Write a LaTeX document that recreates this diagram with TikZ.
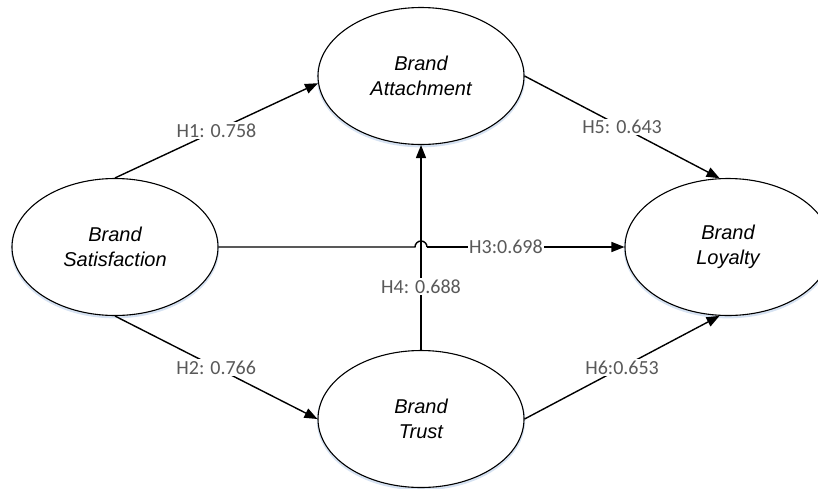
\documentclass[tikz,border=0pt]{standalone}
\usepackage{fontspec}
\setmainfont{Liberation Sans}
\newfontfamily\lblfont{Carlito}
\usetikzlibrary{arrows.meta,shapes.geometric,calc}
\definecolor{lblgray}{RGB}{89,89,89}
\definecolor{shadowblue}{RGB}{214,226,242}
\begin{document}
\begin{tikzpicture}[x=1pt,y=1pt,
  construct/.style={ellipse,draw=black,line width=1.1pt,fill=white,
    minimum width=206pt,minimum height=137pt,inner sep=0pt,align=center,
    font=\fontsize{20}{25}\selectfont\itshape,
    preaction={draw=shadowblue,line width=2.5pt,transform canvas={yshift=-1.6pt}}},
  plainline/.style={line width=1.4pt},
  link/.style={plainline,-{Triangle[length=13pt,width=10pt]}},
  lbl/.style={fill=white,text=lblgray,font=\lblfont\fontsize{20}{24}\selectfont,inner sep=1.5pt}]
\useasboundingbox (0,0) rectangle (818,-488);
\node[construct] (Sat) at (115,-247) {Brand\\Satisfaction};
\node[construct] (Att) at (421,-76) {Brand\\Attachment};
\node[construct] (Loy) at (728,-247) {Brand\\Loyalty};
\node[construct] (Tru) at (421,-419) {Brand\\Trust};
\coordinate (jx) at (Att.south |- Sat.east);
% H1
\draw[link] (Sat.north) -- (Att.184) node[lbl,midway] {H1: 0.758};
% H2
\draw[link] (Sat.south) -- (Tru.west) node[lbl,midway] {H2: 0.766};
% H5
\draw[link] (Att.east) -- (Loy.97) node[lbl,midway] {H5: 0.643};
% H6
\draw[link] (Tru.east) -- (Loy.263) node[lbl,midway] {H6:0.653};
% H4
\draw[link] (Tru.north) -- (Att.south) node[lbl,pos=0.31] {H4: 0.688};
% H3 with bridge
\draw[plainline] (Sat.east) -- ([xshift=-6pt]jx) arc[start angle=180,end angle=0,radius=6pt];
\draw[link] ([xshift=6pt]jx) -- (Loy.west) node[lbl,pos=0.40] {H3:0.698};
\end{tikzpicture}
\end{document}
